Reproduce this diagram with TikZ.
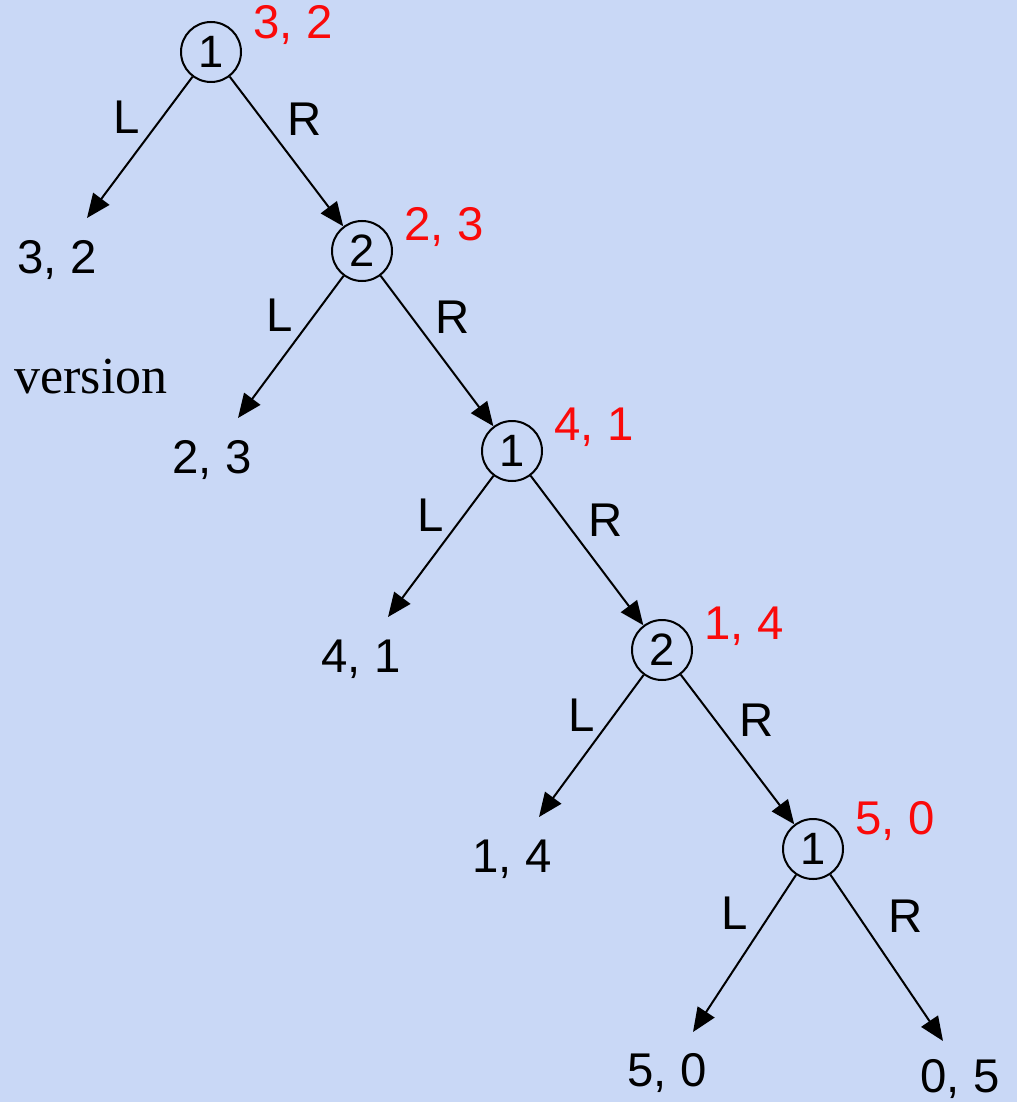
\documentclass[tikz,border=0pt]{standalone}
\usepackage{fontspec}
\setmainfont{Liberation Sans}
\newfontfamily\serifv{Liberation Serif}
\usetikzlibrary{arrows.meta}
\definecolor{bgblue}{RGB}{201,216,246}
\definecolor{payred}{RGB}{250,10,10}
\begin{document}
\begin{tikzpicture}[x=0.75pt,y=-0.75pt,
  dnode/.style={circle,draw=black,line width=1.5pt,minimum size=45pt,inner sep=0pt,font=\fontsize{34}{38}\selectfont},
  leaf/.style={anchor=base,inner sep=0pt,font=\fontsize{35.5}{40}\selectfont},
  pay/.style={anchor=base,inner sep=0pt,text=payred,font=\fontsize{35.5}{40}\selectfont},
  elab/.style={anchor=base,inner sep=0pt,font=\fontsize{35.5}{40}\selectfont},
  mv/.style={line width=1.5pt,-{Triangle[length=18pt,width=15pt]}}]
\fill[bgblue] (0,0) rectangle (1017,1102);
\useasboundingbox (0,0) rectangle (1017,1102);
% decision nodes
\node[dnode] (n1) at (211,52) {1};
\node[dnode] (n2) at (362,251) {2};
\node[dnode] (n3) at (512,451) {1};
\node[dnode] (n4) at (662,650) {2};
\node[dnode] (n5) at (813,849) {1};
% red values
\node[pay] (v1) at (293,39) {3, 2};
\node[pay] (v2) at (444,240) {2, 3};
\node[pay] (v3) at (594,440) {4, 1};
\node[pay] (v4) at (744,639) {1, 4};
\node[pay] (v5) at (895,834) {5, 0};
% leaf payoffs
\node[leaf] (p1) at (57,273) {3, 2};
\node[leaf] (p2) at (212,473) {2, 3};
\node[leaf] (p3) at (361,672) {4, 1};
\node[leaf] (p4) at (512,872) {1, 4};
\node[leaf] (p5) at (667,1086) {5, 0};
\node[leaf] (p6) at (960,1092) {0, 5};
% arrow tips
\coordinate (t1) at (87,218);
\coordinate (t2) at (238,418);
\coordinate (t3) at (388,617);
\coordinate (t4) at (539,817);
\coordinate (t5) at (693,1032);
\coordinate (t6) at (943,1041);
% connectors
\draw[mv] (n1) -- (t1);
\draw[mv] (n1) -- (n2);
\draw[mv] (n2) -- (t2);
\draw[mv] (n2) -- (n3);
\draw[mv] (n3) -- (t3);
\draw[mv] (n3) -- (n4);
\draw[mv] (n4) -- (t4);
\draw[mv] (n4) -- (n5);
\draw[mv] (n5) -- (t5);
\draw[mv] (n5) -- (t6);
% edge labels
\node[elab] (l1) at (127,134) {L};
\node[elab] (r1) at (305,136) {R};
\node[elab] (l2) at (280,331) {L};
\node[elab] (r2) at (453,333) {R};
\node[elab] (l3) at (431,531) {L};
\node[elab] (r3) at (606,536) {R};
\node[elab] (l4) at (582,731) {L};
\node[elab] (r4) at (757,736) {R};
\node[elab] (l5) at (735,929) {L};
\node[elab] (r5) at (906,932) {R};
% stray word
\node[anchor=base,inner sep=0pt,font=\serifv\fontsize{39}{44}\selectfont] (ver) at (91,393) {version};
\end{tikzpicture}
\end{document}
